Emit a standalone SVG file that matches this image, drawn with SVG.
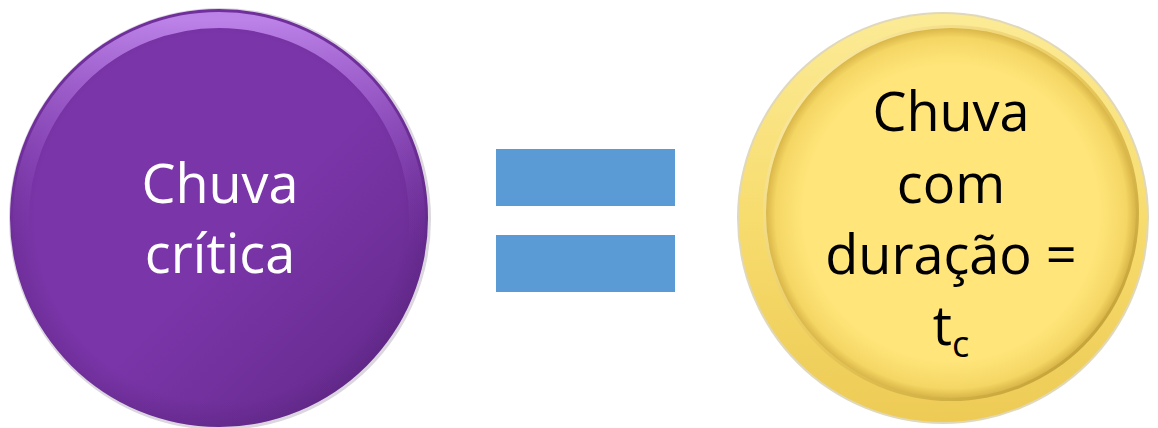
<svg xmlns="http://www.w3.org/2000/svg" width="1158" height="428" viewBox="0 0 1158 428">
<style>
.lbl{font-family:"Open Sans","Noto Sans","Liberation Sans",sans-serif;font-size:54px;text-anchor:middle}
.w{fill:#FFFFFF}
.k{fill:#000000}
.bar{fill:#5B9BD5}
</style>
<defs>
<radialGradient id="pBody" cx="0.5" cy="0.5" r="0.5">
<stop offset="0.88" stop-color="#7A35A8"/>
<stop offset="1" stop-color="#6F2F9A"/>
</radialGradient>
<linearGradient id="pHi" x1="0" y1="0" x2="0" y2="1">
<stop offset="0" stop-color="#C48BF0" stop-opacity="0.9"/>
<stop offset="0.35" stop-color="#A766D8" stop-opacity="0.3"/>
<stop offset="0.6" stop-color="#7A35A8" stop-opacity="0"/>
</linearGradient>
<linearGradient id="pShade" x1="0" y1="0" x2="1" y2="1">
<stop offset="0.55" stop-color="#3A1355" stop-opacity="0"/>
<stop offset="1" stop-color="#3A1355" stop-opacity="0.4"/>
</linearGradient>
<linearGradient id="yOuter" x1="0" y1="0" x2="0" y2="1">
<stop offset="0" stop-color="#FCEB96"/>
<stop offset="0.5" stop-color="#F7DC6E"/>
<stop offset="1" stop-color="#EDCB55"/>
</linearGradient>
<radialGradient id="yInner" cx="0.5" cy="0.5" r="0.5">
<stop offset="0.8" stop-color="#FFE57A"/>
<stop offset="0.95" stop-color="#F4D664"/>
<stop offset="1" stop-color="#D9B648"/>
</radialGradient>
<linearGradient id="yRim" x1="0" y1="0" x2="1" y2="1">
<stop offset="0" stop-color="#FFF3B8"/>
<stop offset="0.5" stop-color="#E8C85A"/>
<stop offset="1" stop-color="#B8962E"/>
</linearGradient>
</defs>
<rect width="1158" height="428" fill="#FFFFFF"/>
<g id="node-chuva-critica">
<circle cx="220" cy="219" r="211" fill="#DCD6E0"/>
<circle cx="219" cy="218" r="209" fill="url(#pBody)"/>
<circle cx="219" cy="218" r="209" fill="url(#pShade)"/>
<circle cx="219" cy="218" r="198" fill="none" stroke="url(#pHi)" stroke-width="16"/>
<text class="lbl w" x="220" y="203">Chuva</text>
<text class="lbl w" x="220" y="273">crítica</text>
</g>
<g id="node-equals">
<rect class="bar" x="496" y="149" width="179" height="57"/>
<rect class="bar" x="496" y="235" width="179" height="57"/>
</g>
<g id="node-chuva-duracao">
<circle cx="943" cy="218" r="206" fill="#E0D8B8"/>
<circle cx="943" cy="218" r="204" fill="url(#yOuter)"/>
<circle cx="951" cy="213" r="188" fill="url(#yRim)"/>
<circle cx="951" cy="213" r="185" fill="url(#yInner)"/>
<text class="lbl k" x="951" y="131">Chuva</text>
<text class="lbl k" x="951" y="203">com</text>
<text class="lbl k" x="951" y="274">duração =</text>
<text class="lbl k" x="951" y="345">t<tspan font-size="36" dy="12">c</tspan></text>
</g>
<g id="connectors"/>
</svg>
